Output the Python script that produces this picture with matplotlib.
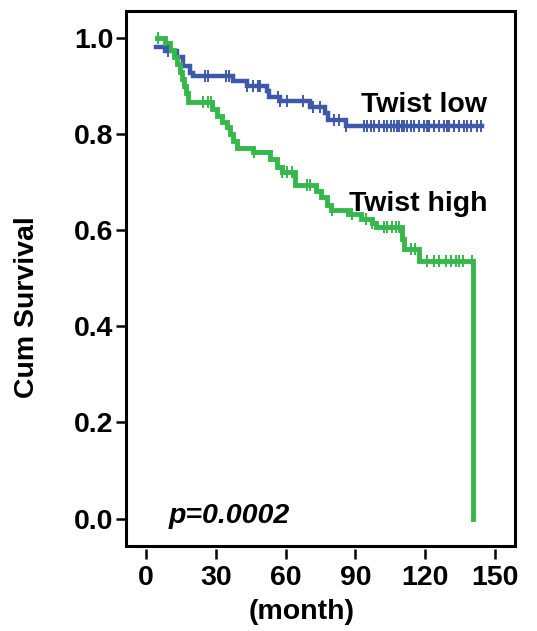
import matplotlib
matplotlib.use("Agg")
import matplotlib.pyplot as plt
from matplotlib.patches import Rectangle
import numpy as np

plt.rcParams['font.family'] = ['Liberation Sans', 'DejaVu Sans']
plt.rcParams['font.weight'] = 'bold'

# Twist low: step times (months) and survival after each step
low_t = [4.5, 8.1, 13.3, 15.9, 18.9, 20.1, 37.3, 43.3, 51.9, 52.7, 57.4, 70.3, 77.0, 78.4, 86.1, 144.4]
low_s = [0.982, 0.972, 0.960, 0.941, 0.928, 0.920, 0.910, 0.900, 0.890, 0.878, 0.869, 0.856, 0.843, 0.830, 0.817, 0.817]
low_censor = [9.4, 25.3, 26.6, 34.3, 35.6, 43.3, 45.9, 48.0, 48.9, 56.6, 57.4, 60.4, 67.3, 71.6, 74.6,
              81.0, 83.1, 86.1, 93.9, 95.1, 96.9, 98.1, 100.3, 102.4, 103.7, 105.4, 106.7, 108.0,
              108.9, 110.1, 111.0, 112.3, 114.0, 115.3, 117.4, 119.6, 120.9, 121.7, 123.9, 126.0,
              128.1, 129.4, 130.3, 132.4, 134.6, 136.7, 138.0, 139.7, 142.3, 144.0]

# Twist high
high_t = [4.7, 8.1, 10.3, 12.0, 13.3, 14.6, 15.4, 16.3, 17.1, 18.0, 28.3, 30.4, 32.6, 34.7, 36.0,
          37.3, 39.0, 45.9, 53.1, 56.1, 58.3, 63.9, 72.9, 75.4, 78.0, 79.7, 87.0, 92.6, 97.3, 99.0,
          110.1, 111.0, 117.4, 140.6]
high_s = [1.000, 0.990, 0.975, 0.960, 0.945, 0.930, 0.915, 0.900, 0.885, 0.866, 0.852, 0.838, 0.826,
          0.814, 0.800, 0.785, 0.772, 0.762, 0.748, 0.731, 0.722, 0.694, 0.682, 0.669, 0.652, 0.643,
          0.634, 0.623, 0.615, 0.606, 0.582, 0.561, 0.536, 0.000]
high_censor = [5.1, 24.4, 26.6, 27.9, 46.3, 58.3, 60.4, 62.6, 69.0, 70.3, 80.1, 88.7, 94.7, 97.3,
               102.4, 103.7, 105.8, 107.6, 108.9, 114.0, 115.7, 120.9, 123.9, 126.0, 129.0, 131.1,
               133.3, 134.6, 136.3, 140.2]

x_ticks = [0, 30, 60, 90, 120, 150]
y_ticks = [0.0, 0.2, 0.4, 0.6, 0.8, 1.0]

blue = '#3F59AA'
green = '#34B84A'
FS = 20.5

fig = plt.figure(figsize=(5.37, 6.31), dpi=100)
ax = fig.add_axes([126/537, 1-546/631, (515-126)/537, (546-11)/631])


def step_value(ts, ss, x):
    idx = np.searchsorted(ts, x, side='right') - 1
    idx = np.clip(idx, 0, len(ss) - 1)
    return np.asarray(ss)[idx]


for ts, ss, cens, col, lw in [(low_t, low_s, low_censor, blue, 3.2),
                              (high_t, high_s, high_censor, green, 3.5)]:
    ax.step(ts, ss, where='post', color=col, lw=lw, solid_joinstyle='miter', zorder=3)
    cy = step_value(ts, ss, np.array(cens))
    ax.plot(cens, cy, ls='none', marker='|', ms=8, mew=1.4, color=col, zorder=4)

ax.set_xlim(-8.6, 158.6)
ax.set_ylim(-0.057, 1.056)
ax.set_xticks(x_ticks)
ax.set_xticklabels([str(v) for v in x_ticks])
ax.set_yticks(y_ticks)
ax.set_yticklabels([f'{v:.1f}' for v in y_ticks])

for s in ax.spines.values():
    s.set_visible(False)
ax.spines['bottom'].set_position(('outward', 2.2))
ax.add_patch(Rectangle((0, 0), 1, 1, transform=ax.transAxes, fill=False,
                       lw=2.2, ec='black', clip_on=False, zorder=5))

ax.tick_params(axis='both', direction='out', width=1.8, labelsize=FS, color='black')
ax.tick_params(axis='x', length=7.5, pad=4)
ax.tick_params(axis='y', length=7, pad=2)
for lab in ax.get_xticklabels() + ax.get_yticklabels():
    lab.set_fontweight('bold')

ax.text(92.6, 0.845, 'Twist low', fontsize=FS, fontweight='bold', ha='left', va='baseline')
ax.text(87.4, 0.640, 'Twist high', fontsize=FS, fontweight='bold', ha='left', va='baseline')
ax.text(9.9, -0.009, 'p=0.0002', fontsize=FS, fontweight='bold', style='italic',
        ha='left', va='baseline')

fig.text(27/537, 1-307/631, 'Cum Survival', rotation=90, fontsize=FS, fontweight='bold',
         ha='center', va='center')
fig.text(302/537, 1-612/631, '(month)', fontsize=FS, fontweight='bold', ha='center', va='center')

fig.savefig('out.png', dpi=100)
